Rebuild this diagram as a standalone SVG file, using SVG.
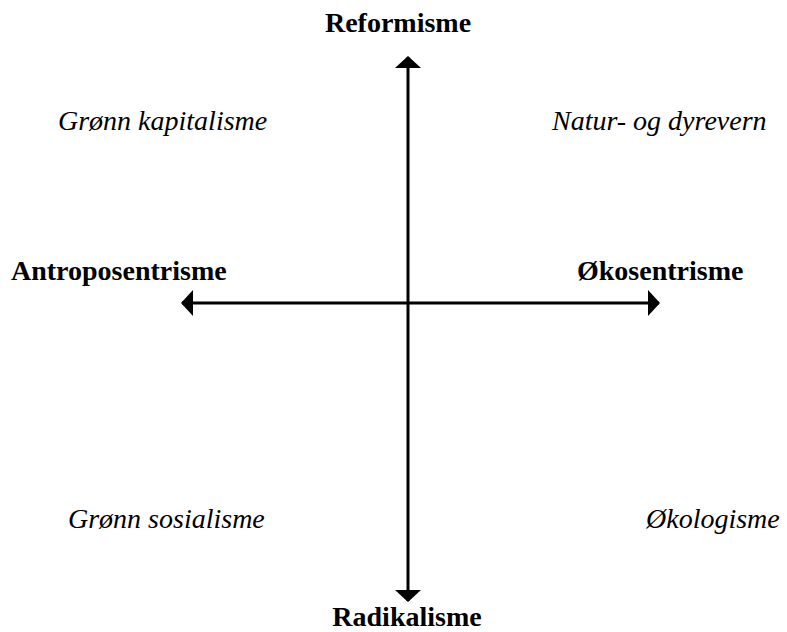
<svg xmlns="http://www.w3.org/2000/svg" width="787" height="632" viewBox="0 0 787 632">
<style>
text{font-family:"Liberation Serif","Times New Roman",serif;font-size:28px;fill:#000}
.b{font-weight:bold}
.i{font-style:italic}
.ax{stroke:#000;stroke-width:3;fill:none}
</style>
<defs>
<marker id="ah" markerUnits="userSpaceOnUse" markerWidth="14" markerHeight="28" viewBox="0 0 12 28" refX="11" refY="14" orient="auto">
<path d="M0,1 L12,14 L0,27 Z" fill="#000"/>
</marker>
</defs>
<rect width="787" height="632" fill="#fff"/>
<g id="connectors">
<line class="ax" x1="408" y1="300" x2="408" y2="57" marker-end="url(#ah)"/>
<line class="ax" x1="408" y1="300" x2="408" y2="601" marker-end="url(#ah)"/>
<line class="ax" x1="408" y1="303" x2="182" y2="303" marker-end="url(#ah)"/>
<line class="ax" x1="408" y1="303" x2="659" y2="303" marker-end="url(#ah)"/>
</g>
<g id="reformisme"><text class="b" x="398" y="32" text-anchor="middle">Reformisme</text></g>
<g id="radikalisme"><text class="b" x="407" y="626" text-anchor="middle">Radikalisme</text></g>
<g id="antroposentrisme"><text class="b" x="11" y="280">Antroposentrisme</text></g>
<g id="okosentrisme"><text class="b" x="577" y="280">Økosentrisme</text></g>
<g id="gronn-kapitalisme"><text class="i" x="58" y="130">Grønn kapitalisme</text></g>
<g id="natur-dyrevern"><text class="i" x="552" y="130">Natur- og dyrevern</text></g>
<g id="gronn-sosialisme"><text class="i" x="68" y="528">Grønn sosialisme</text></g>
<g id="okologisme"><text class="i" x="646" y="528">Økologisme</text></g>
</svg>
